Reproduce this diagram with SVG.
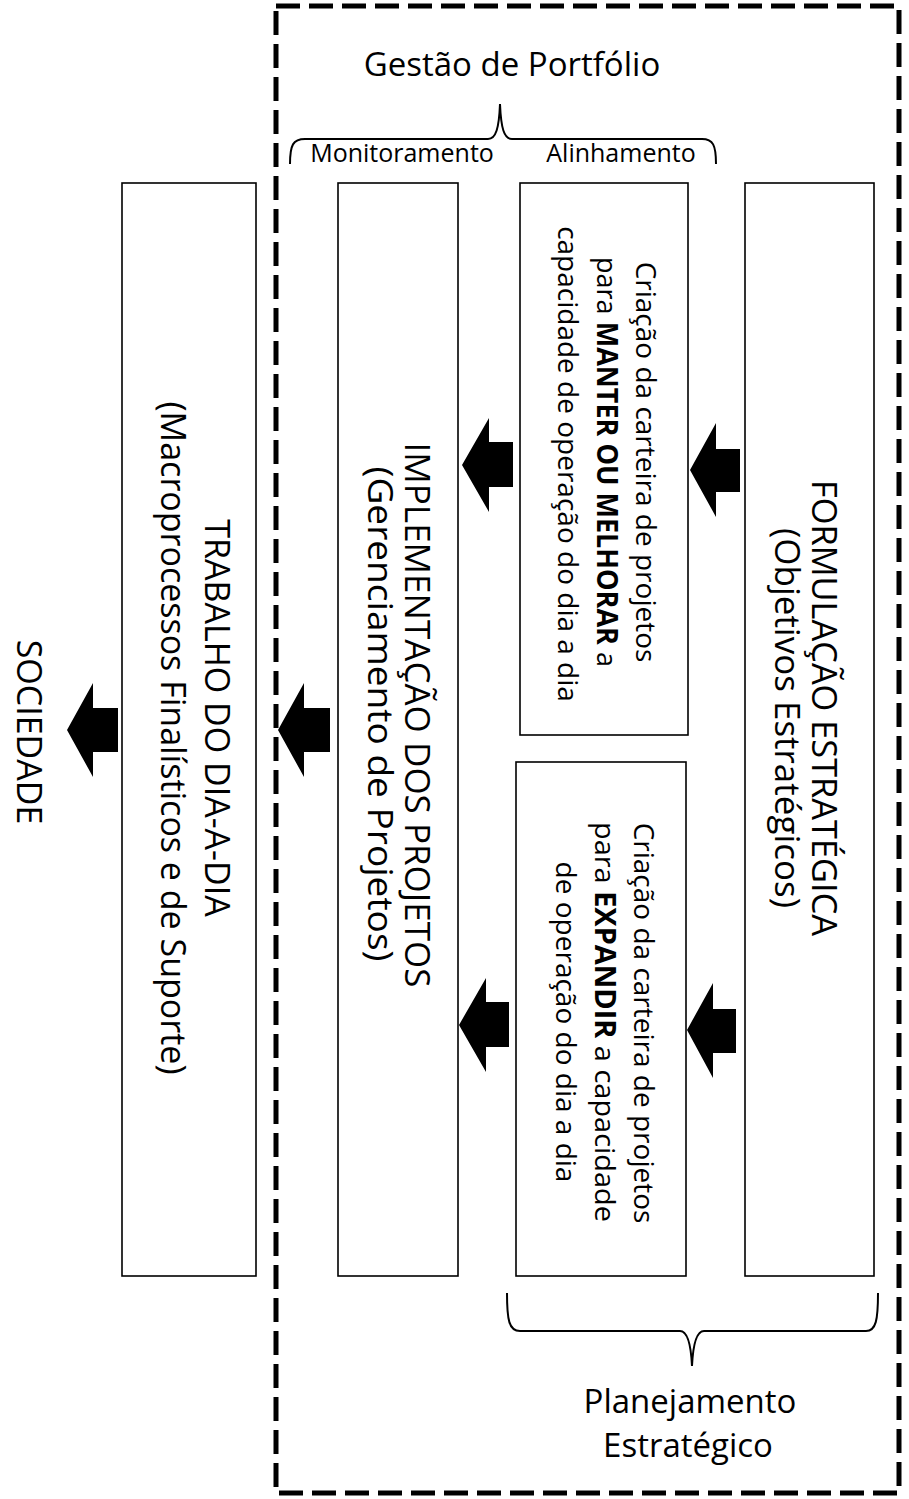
<svg xmlns="http://www.w3.org/2000/svg" width="909" height="1499" viewBox="0 0 909 1499">
<style>
.box{fill:#fff;stroke:#000;stroke-width:1.6}
.t{font-family:"Open Sans","Liberation Sans",sans-serif;fill:#000;text-anchor:middle}
.big{font-size:34px}
.body{font-size:28px}
.lbl{font-size:33px}
.sm{font-size:25px}
.b{font-weight:bold}
.arr{fill:#000}
.brace{fill:none;stroke:#000;stroke-width:2}
</style>
<rect width="909" height="1499" fill="#fff"/>
<g id="portfolio-frame">
<rect x="276" y="6" width="623" height="1487" fill="none" stroke="#000" stroke-width="5" stroke-dasharray="24 9"/>
<text class="t lbl" x="512" y="76">Gestão de Portfólio</text>
<path class="brace" d="M290,164 C290,145 293,139 305,139 L488,139 C496,139 499,128 500,104 C501,128 504,139 512,139 L702,139 C713,139 716,145 716,164"/>
<text class="t sm" x="402" y="162">Monitoramento</text>
<text class="t sm" x="621" y="162">Alinhamento</text>
<path class="brace" d="M507,1293 C507,1320 509,1331 520,1331 L680,1331 C688,1331 691,1345 692,1366 C693,1345 696,1331 704,1331 L866,1331 C876,1331 878,1320 878,1293"/>
<text class="t lbl" x="690" y="1413">Planejamento</text>
<text class="t lbl" x="688" y="1457">Estratégico</text>
</g>
<g id="sociedade">
<text class="t big" transform="translate(17,732) rotate(90)">SOCIEDADE</text>
</g>
<g id="trabalho">
<rect class="box" x="122" y="183" width="134" height="1093"/>
<text class="t big" transform="translate(205,718) rotate(90)">TRABALHO DO DIA-A-DIA</text>
<text class="t big" transform="translate(161,738) rotate(90)">(Macroprocessos Finalísticos e de Suporte)</text>
</g>
<g id="implementacao">
<rect class="box" x="338" y="183" width="120" height="1093"/>
<text class="t big" transform="translate(405,715) rotate(90)" textLength="545" lengthAdjust="spacingAndGlyphs">IMPLEMENTAÇÃO DOS PROJETOS</text>
<text class="t big" transform="translate(368,714) rotate(90)" textLength="495" lengthAdjust="spacingAndGlyphs">(Gerenciamento de Projetos)</text>
</g>
<g id="manter">
<rect class="box" x="520" y="183" width="168" height="552"/>
<text class="t body" transform="translate(636,462) rotate(90)">Criação da carteira de projetos</text>
<text class="t body" transform="translate(597,462) rotate(90)" textLength="410" lengthAdjust="spacingAndGlyphs">para <tspan class="b">MANTER OU MELHORAR</tspan> a</text>
<text class="t body" transform="translate(558,464) rotate(90)">capacidade de operação do dia a dia</text>
</g>
<g id="expandir">
<rect class="box" x="516" y="762" width="170" height="514"/>
<text class="t body" transform="translate(634,1023) rotate(90)">Criação da carteira de projetos</text>
<text class="t body" transform="translate(595,1022) rotate(90)" textLength="400" lengthAdjust="spacingAndGlyphs">para <tspan class="b">EXPANDIR</tspan> a capacidade</text>
<text class="t body" transform="translate(556,1022) rotate(90)">de operação do dia a dia</text>
</g>
<g id="formulacao">
<rect class="box" x="745" y="183" width="129" height="1093"/>
<text class="t big" transform="translate(812,708) rotate(90)" textLength="456" lengthAdjust="spacingAndGlyphs">FORMULAÇÃO ESTRATÉGICA</text>
<text class="t big" transform="translate(775,718) rotate(90)" textLength="380" lengthAdjust="spacingAndGlyphs">(Objetivos Estratégicos)</text>
</g>
<g id="connectors">
<polygon class="arr" points="67,730 93,683 93,708 118,708 118,752 93,752 93,777"/>
<polygon class="arr" points="278,730 304,683 304,708 330,708 330,752 304,752 304,777"/>
<polygon class="arr" points="462,465 489,418 489,442 513,442 513,487 489,487 489,512"/>
<polygon class="arr" points="690,470 716,423 716,449 740,449 740,492 716,492 716,517"/>
<polygon class="arr" points="459,1025 486,978 486,1002 509,1002 509,1047 486,1047 486,1072"/>
<polygon class="arr" points="687,1030 713,983 713,1009 736,1009 736,1053 713,1053 713,1078"/>
</g>
</svg>
